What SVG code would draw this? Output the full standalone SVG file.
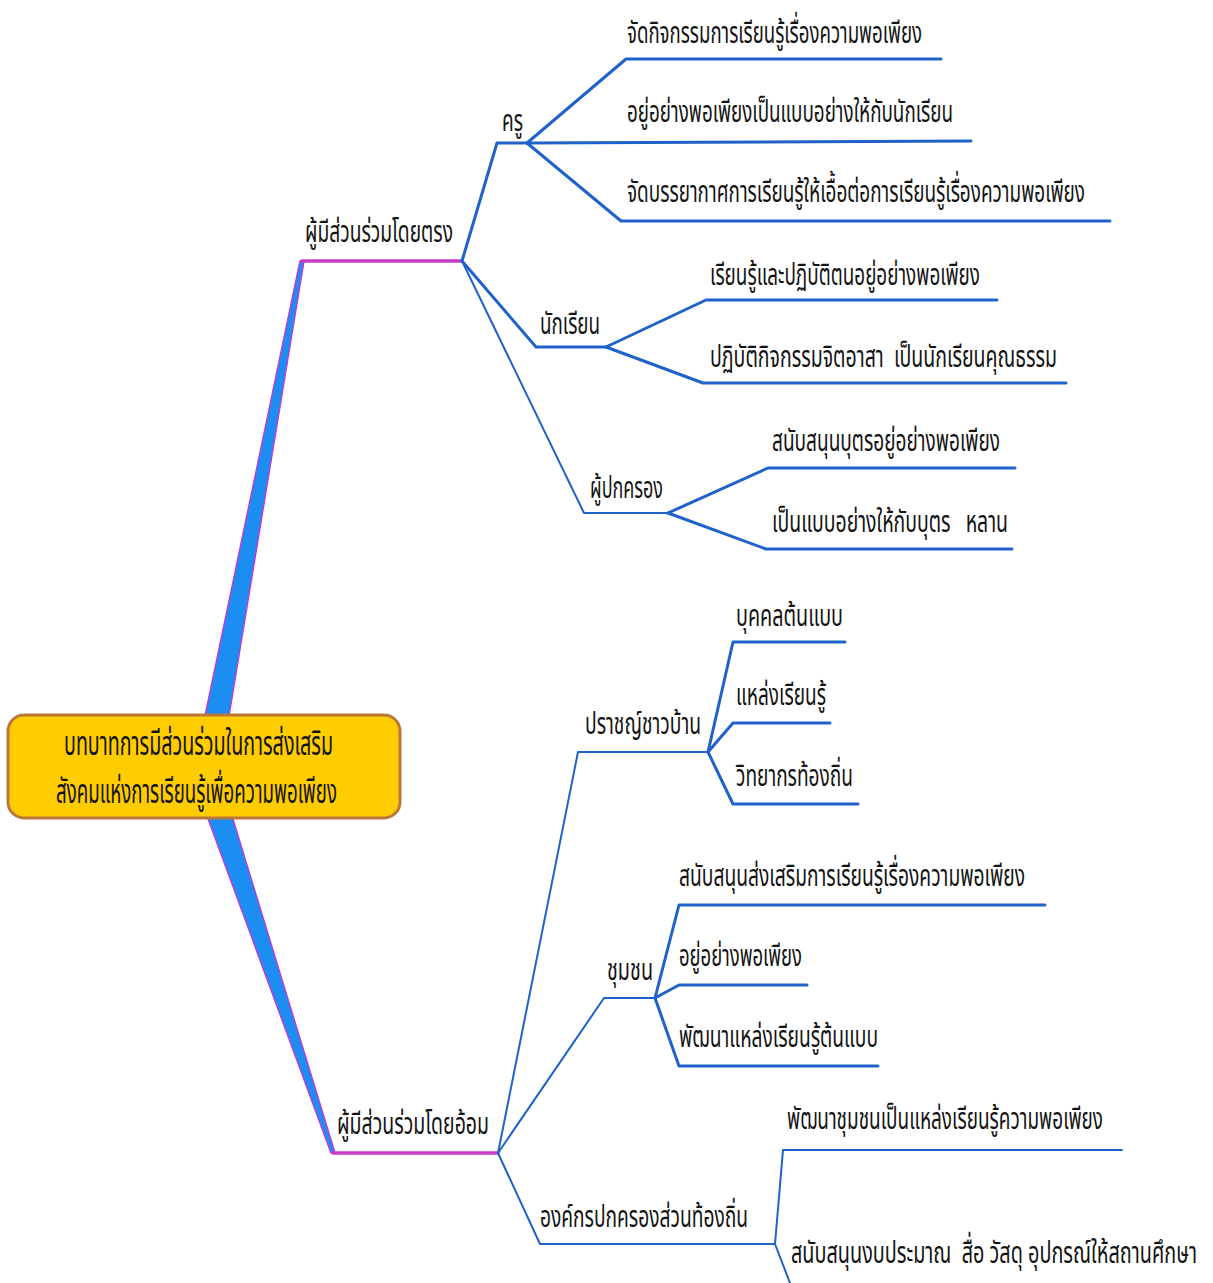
<svg xmlns="http://www.w3.org/2000/svg" width="1213" height="1283" viewBox="0 0 1213 1283">
<style>
.t{font-family:'Noto Sans Thai','Noto Serif Thai','Loma','Garuda','Tlwg Typo','DejaVu Sans',sans-serif;font-size:31px;fill:#141414}
.c{font-size:33px}
.b{fill:none;stroke:#1F62C9;stroke-width:3;stroke-linejoin:round;stroke-linecap:round}
.bt{stroke-width:2}
.m{fill:none;stroke:#C83CC8;stroke-width:3.5;stroke-linecap:round}
.w{fill:#1C8EF2;stroke:#B53FD9;stroke-width:1.5;stroke-linejoin:round}
</style>
<rect width="1213" height="1283" fill="#ffffff"/>
<g id="connectors">
  <polygon class="w" points="205,716 229,716 304,261 300,261"/>
  <polygon class="w" points="207,816 232,816 335,1153 331,1153"/>
  <line class="m" x1="302" y1="261" x2="462" y2="261"/>
  <line class="m" x1="333" y1="1153" x2="498" y2="1153"/>
  <polyline class="b" points="462,261 497,143 527,143"/>
  <polyline class="b" points="527,143 626,59 941,59"/>
  <polyline class="b" points="527,143 971,141"/>
  <polyline class="b" points="527,143 621,221 1110,221"/>
  <polyline class="b" points="462,261 536,347 606,347"/>
  <polyline class="b" points="606,347 706,300 997,300"/>
  <polyline class="b" points="606,347 703,383 1066,383"/>
  <polyline class="b bt" points="462,261 584,513 668,513"/>
  <polyline class="b" points="668,513 768,468 1015,468"/>
  <polyline class="b" points="668,513 766,549 1012,549"/>
  <polyline class="b bt" points="498,1153 578,752 708,752"/>
  <polyline class="b" points="708,752 733,642 845,642"/>
  <polyline class="b" points="708,752 733,723 830,723"/>
  <polyline class="b" points="708,752 733,804 858,804"/>
  <polyline class="b bt" points="498,1153 604,998 655,998"/>
  <polyline class="b" points="655,998 679,905 1045,905"/>
  <polyline class="b" points="655,998 679,985 807,985"/>
  <polyline class="b" points="655,998 679,1066 878,1066"/>
  <polyline class="b bt" points="498,1153 540,1244 775,1244"/>
  <polyline class="b bt" points="775,1244 783,1150 1122,1150"/>
  <polyline class="b bt" points="775,1244 790,1283"/>
</g>
<g id="center">
  <rect x="8" y="715" width="392" height="103" rx="16" fill="#FFCC00" stroke="#B9783A" stroke-width="3"/>
  <text class="t c" x="64" y="755" textLength="269" lengthAdjust="spacingAndGlyphs">บทบาทการมีส่วนร่วมในการส่งเสริม</text>
  <text class="t c" x="56" y="803" textLength="281" lengthAdjust="spacingAndGlyphs">สังคมแห่งการเรียนรู้เพื่อความพอเพียง</text>
</g>
<g id="direct"><text class="t" x="305" y="242" textLength="148" lengthAdjust="spacingAndGlyphs">ผู้มีส่วนร่วมโดยตรง</text></g>
<g id="teacher"><text class="t" x="502" y="131" textLength="21" lengthAdjust="spacingAndGlyphs">ครู</text></g>
<g id="teacher-1"><text class="t" x="627" y="43" textLength="295" lengthAdjust="spacingAndGlyphs">จัดกิจกรรมการเรียนรู้เรื่องความพอเพียง</text></g>
<g id="teacher-2"><text class="t" x="627" y="122" textLength="326" lengthAdjust="spacingAndGlyphs">อยู่อย่างพอเพียงเป็นแบบอย่างให้กับนักเรียน</text></g>
<g id="teacher-3"><text class="t" x="627" y="202" textLength="458" lengthAdjust="spacingAndGlyphs">จัดบรรยากาศการเรียนรู้ให้เอื้อต่อการเรียนรู้เรื่องความพอเพียง</text></g>
<g id="student"><text class="t" x="540" y="334" textLength="60" lengthAdjust="spacingAndGlyphs">นักเรียน</text></g>
<g id="student-1"><text class="t" x="710" y="285" textLength="270" lengthAdjust="spacingAndGlyphs">เรียนรู้และปฏิบัติตนอยู่อย่างพอเพียง</text></g>
<g id="student-2"><text class="t" x="710" y="367" textLength="347" lengthAdjust="spacingAndGlyphs" xml:space="preserve">ปฏิบัติกิจกรรมจิตอาสา  เป็นนักเรียนคุณธรรม</text></g>
<g id="parent"><text class="t" x="590" y="498" textLength="73" lengthAdjust="spacingAndGlyphs">ผู้ปกครอง</text></g>
<g id="parent-1"><text class="t" x="772" y="451" textLength="228" lengthAdjust="spacingAndGlyphs">สนับสนุนบุตรอยู่อย่างพอเพียง</text></g>
<g id="parent-2"><text class="t" x="772" y="532" textLength="236" lengthAdjust="spacingAndGlyphs" xml:space="preserve">เป็นแบบอย่างให้กับบุตร   หลาน</text></g>
<g id="indirect"><text class="t" x="337" y="1134" textLength="152" lengthAdjust="spacingAndGlyphs">ผู้มีส่วนร่วมโดยอ้อม</text></g>
<g id="sage"><text class="t" x="585" y="734" textLength="116" lengthAdjust="spacingAndGlyphs">ปราชญ์ชาวบ้าน</text></g>
<g id="sage-1"><text class="t" x="736" y="626" textLength="107" lengthAdjust="spacingAndGlyphs">บุคคลต้นแบบ</text></g>
<g id="sage-2"><text class="t" x="736" y="705" textLength="90" lengthAdjust="spacingAndGlyphs">แหล่งเรียนรู้</text></g>
<g id="sage-3"><text class="t" x="736" y="786" textLength="117" lengthAdjust="spacingAndGlyphs">วิทยากรท้องถิ่น</text></g>
<g id="community"><text class="t" x="607" y="980" textLength="46" lengthAdjust="spacingAndGlyphs">ชุมชน</text></g>
<g id="community-1"><text class="t" x="679" y="886" textLength="346" lengthAdjust="spacingAndGlyphs">สนับสนุนส่งเสริมการเรียนรู้เรื่องความพอเพียง</text></g>
<g id="community-2"><text class="t" x="679" y="966" textLength="123" lengthAdjust="spacingAndGlyphs">อยู่อย่างพอเพียง</text></g>
<g id="community-3"><text class="t" x="679" y="1047" textLength="199" lengthAdjust="spacingAndGlyphs">พัฒนาแหล่งเรียนรู้ต้นแบบ</text></g>
<g id="local-gov"><text class="t" x="540" y="1227" textLength="208" lengthAdjust="spacingAndGlyphs">องค์กรปกครองส่วนท้องถิ่น</text></g>
<g id="local-gov-1"><text class="t" x="787" y="1129" textLength="316" lengthAdjust="spacingAndGlyphs">พัฒนาชุมชนเป็นแหล่งเรียนรู้ความพอเพียง</text></g>
<g id="local-gov-2"><text class="t" x="791" y="1263" textLength="406" lengthAdjust="spacingAndGlyphs" xml:space="preserve">สนับสนุนงบประมาณ  สื่อ วัสดุ อุปกรณ์ให้สถานศึกษา</text></g>
</svg>
